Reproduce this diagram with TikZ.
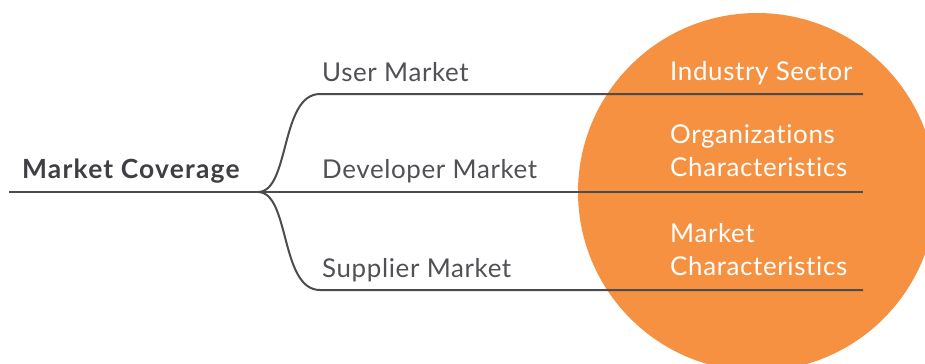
\documentclass[tikz,border=0pt]{standalone}
\usepackage{fontspec}
\setmainfont{Lato}[LetterSpace=2.5, Ligatures={NoCommon}]
\newfontfamily\rootfont{Lato}[LetterSpace=4.5, Ligatures={NoCommon}]
\definecolor{mcorange}{RGB}{245,145,65}
\definecolor{mcline}{RGB}{75,75,80}
\definecolor{mctext}{RGB}{80,80,85}
\definecolor{mcroot}{RGB}{62,62,67}

\begin{document}
\begin{tikzpicture}[x=1bp, y=-1bp,
  lbl/.style={anchor=base west, inner sep=0, text=mctext, font=\fontsize{26}{33}\selectfont},
  leaf/.style={lbl, text=white, align=left},
  branch/.style={draw=mcline, line width=2bp}]
\useasboundingbox (0,0) rectangle (925,363);
\fill[mcorange] (757,192) circle[radius=179bp];
\coordinate (rs) at (9,192);
\coordinate (hub) at (258,192);
\coordinate (ue) at (863,94);
\coordinate (de) at (863,192);
\coordinate (se) at (863,290);
\draw[branch] (rs) -- (hub);
\draw[branch] (hub) .. controls (290,192) and (280,94) .. (320,94) -- (ue);
\draw[branch] (hub) -- (de);
\draw[branch] (hub) .. controls (290,192) and (280,290) .. (320,290) -- (se);
\node[lbl, text=mcroot, font=\rootfont\fontsize{26.5}{33}\selectfont\bfseries] (root) at (22,178) {Market Coverage};
\node[lbl] (user) at (322,81) {User Market};
\node[lbl] (dev) at (322,178) {Developer Market};
\node[lbl] (sup) at (322,277) {Supplier Market};
\node[leaf] (ind) at (670,80) {Industry Sector};
\node[leaf] (org) at (670,176) {Organizations\\Characteristics};
\node[leaf] (mkc) at (670,275) {Market\\Characteristics};
\end{tikzpicture}
\end{document}
